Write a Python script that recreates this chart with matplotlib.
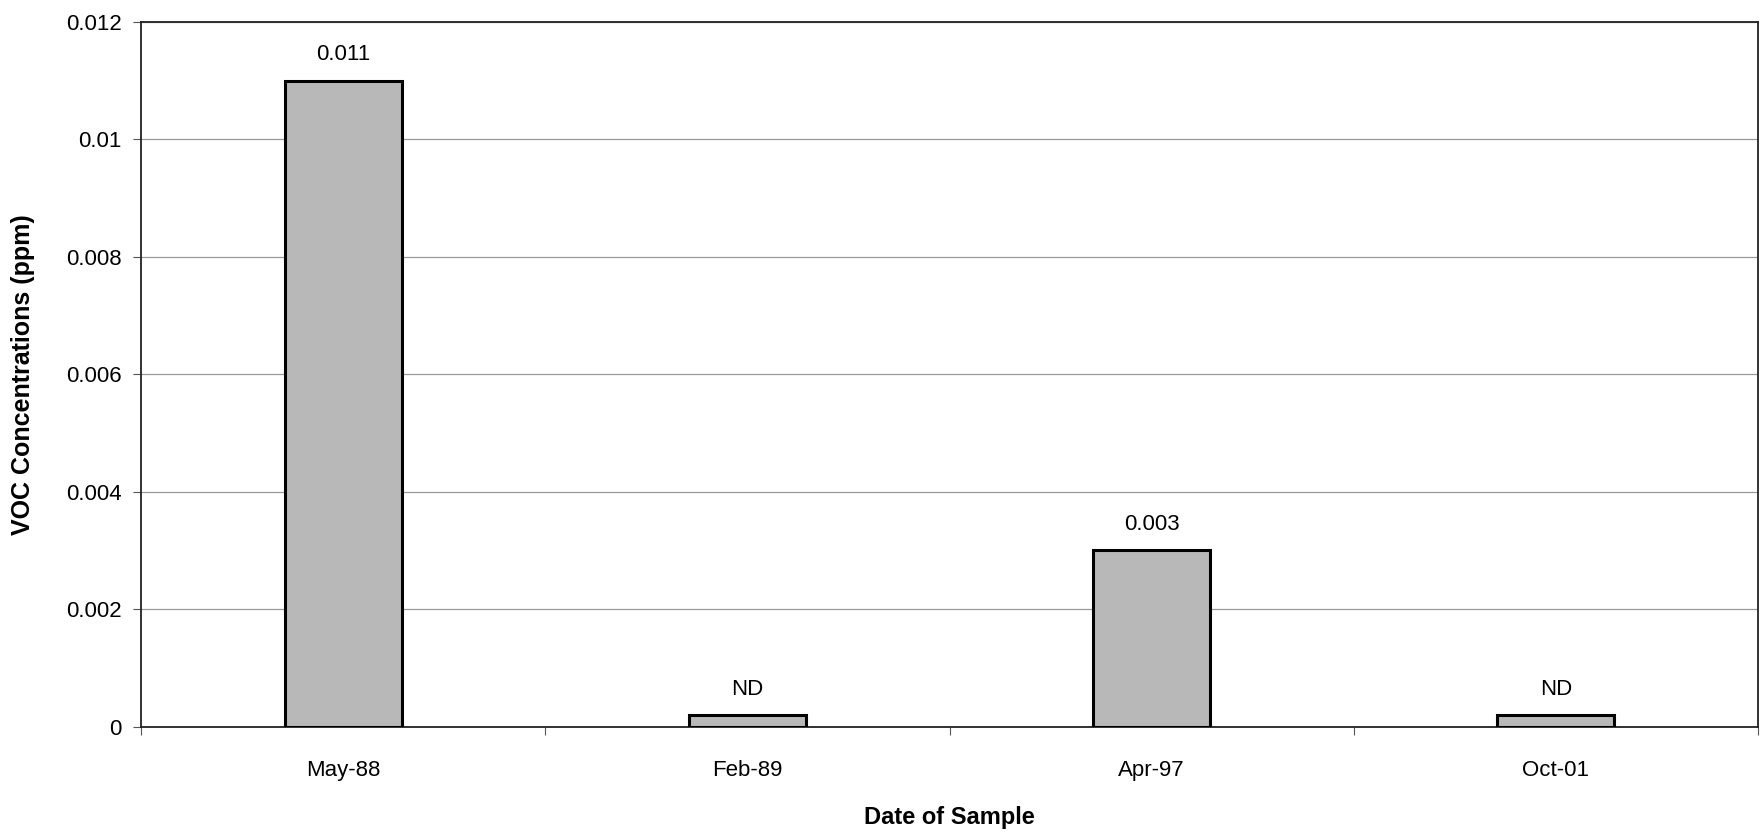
import matplotlib
matplotlib.use("Agg")
import matplotlib.pyplot as plt
import numpy as np

categories = ["May-88", "Feb-89", "Apr-97", "Oct-01"]
values = [0.011, 0.0002, 0.003, 0.0002]
bar_labels = ["0.011", "ND", "0.003", "ND"]
yticks = [0, 0.002, 0.004, 0.006, 0.008, 0.01, 0.012]
ytick_labels = ["0", "0.002", "0.004", "0.006", "0.008", "0.01", "0.012"]

plt.rcParams['font.family'] = ['Liberation Sans', 'DejaVu Sans']

fig = plt.figure(figsize=(17.65, 8.38), dpi=100)
ax = fig.add_axes([0.080, 0.133, 0.916, 0.841])

x = np.arange(len(categories))
ax.bar(x, values, width=0.29, color="#b8b8b8", edgecolor="black", linewidth=2.2, zorder=3)
for xi, v, lab in zip(x, values, bar_labels):
    ax.annotate(lab, (xi, v), xytext=(0, 11), textcoords="offset points",
                ha="center", va="bottom", fontsize=16)

ax.set_xlim(-0.5, len(categories) - 0.5)
ax.set_ylim(0, 0.012)
ax.set_yticks(yticks)
ax.set_yticklabels(ytick_labels, fontsize=16)
ax.set_xticks(x)
ax.set_xticklabels(categories, fontsize=16)
ax.set_xticks(np.arange(len(categories) + 1) - 0.5, minor=True)
ax.tick_params(axis="x", which="major", length=0, pad=24)
ax.tick_params(axis="x", which="minor", length=6, width=0.8, color="#555555")
ax.tick_params(axis="y", length=6, width=0.8, color="#555555", pad=8)
ax.grid(axis="y", color="#999999", linewidth=0.9, zorder=0)
for s in ax.spines.values():
    s.set_linewidth(1.3)
    s.set_color("#222222")

ax.set_ylabel("VOC Concentrations (ppm)", fontsize=18, fontweight="bold")
ax.yaxis.set_label_coords(-0.0656, 0.5)
ax.set_xlabel("Date of Sample", fontsize=17, fontweight="bold")
ax.xaxis.set_label_coords(0.5, -0.113)

fig.savefig("out.png", dpi=100, facecolor="white")
